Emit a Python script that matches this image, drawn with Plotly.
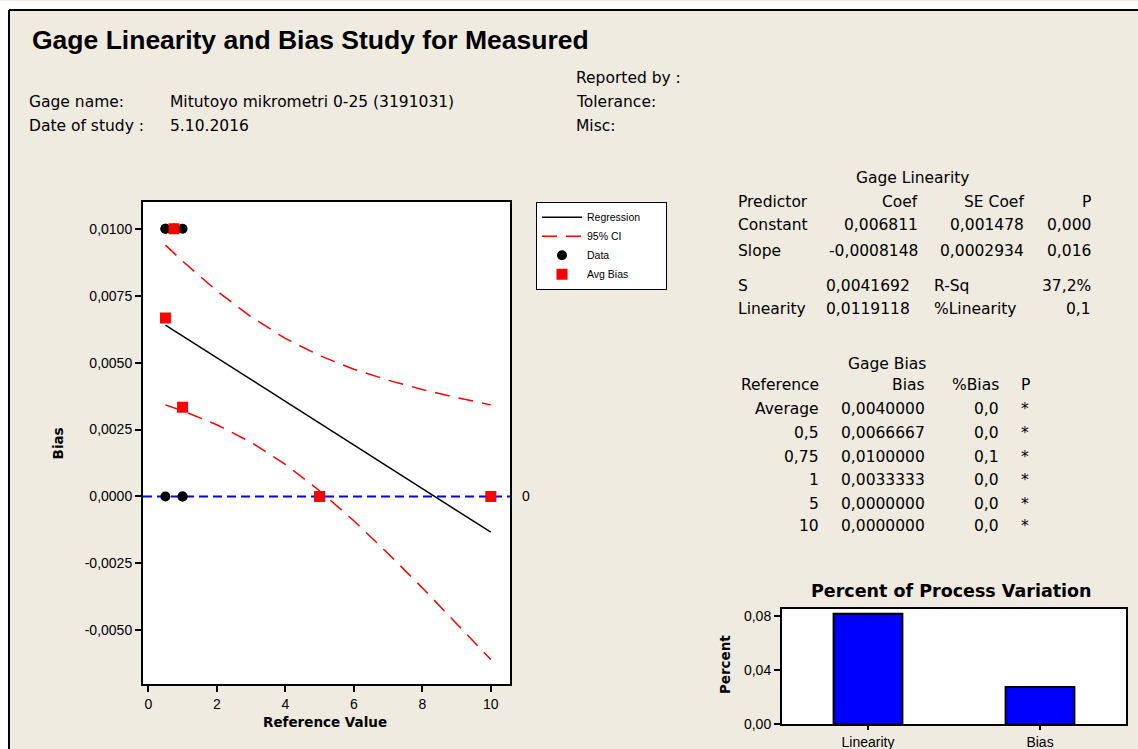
import plotly.graph_objects as go

W = 1138
REF_H = 749          # reference picture height (coordinates below are read in it)
H = 757              # figure height in page pixels
FONT = "Liberation Sans"
TFONT = "DejaVu Sans"
BEIGE = "#EFEBE1"

# ---------------- data ----------------
ref_data = [0.5, 0.5, 0.5, 0.75, 0.75, 0.75, 1, 1, 1, 5, 5, 5, 10, 10, 10]
bias_data = [0.01, 0.01, 0.0, 0.01, 0.01, 0.01, 0.01, 0.0, 0.0, 0.0, 0.0, 0.0, 0.0, 0.0, 0.0]
ref_levels = [0.5, 0.75, 1, 5, 10]
avg_bias = [0.0066667, 0.0100000, 0.0033333, 0.0, 0.0]

reg_const = 0.006811
reg_slope = -0.0008148

ci_x = [0.5, 1, 2, 3, 4, 5, 6, 7, 8, 9, 10]
ci_upper = [0.009388, 0.008793, 0.007682, 0.006710, 0.005904, 0.005262,
            0.004754, 0.004343, 0.003998, 0.003695, 0.003421]
ci_lower = [0.003420, 0.003199, 0.002680, 0.002024, 0.001200, 0.000212,
            -0.000910, -0.002129, -0.003412, -0.004739, -0.006095]

pv_categories = ["Linearity", "Bias"]
pv_percent = [0.0816, 0.0274]

x_ticks = [0, 2, 4, 6, 8, 10]
y_ticks = [-0.005, -0.0025, 0.0, 0.0025, 0.005, 0.0075, 0.01]
pv_ticks = [0.0, 0.04, 0.08]

lin_header = ["Predictor", "Coef", "SE Coef", "P"]
lin_rows = [["Constant", "0,006811", "0,001478", "0,000"],
            ["Slope", "-0,0008148", "0,0002934", "0,016"]]
lin_stats = [["S", "0,0041692", "R-Sq", "37,2%"],
             ["Linearity", "0,0119118", "%Linearity", "0,1"]]

bias_header = ["Reference", "Bias", "%Bias", "P"]
bias_refs = ["Average", "0,5", "0,75", "1", "5", "10"]
bias_vals = ["0,0040000", "0,0066667", "0,0100000", "0,0033333", "0,0000000", "0,0000000"]
bias_pct = ["0,0", "0,0", "0,1", "0,0", "0,0", "0,0"]
bias_p = ["*", "*", "*", "*", "*", "*"]

# ---------------- helpers ----------------
def px(x):
    return x / W

def py(y):
    return 1 - y / REF_H

def comma(v, nd):
    return f"{v:.{nd}f}".replace(".", ",")

annotations = []

def txt(text, x, y, anchor="left", size=15.5, bold=False, color="black", angle=0, family=TFONT):
    annotations.append(dict(
        text=f"<b>{text}</b>" if bold else text,
        x=px(x), y=py(y), xref="paper", yref="paper",
        xanchor=anchor, yanchor="middle", showarrow=False,
        textangle=angle,
        font=dict(family=family, size=size, color=color)))

fig = go.Figure()

NB = "\u00a0"
# regression line
reg_y = [reg_const + reg_slope * v for v in ref_levels]
fig.add_trace(go.Scatter(x=ref_levels, y=reg_y, mode="lines", name="Regression" + NB * 7,
                         line=dict(color="black", width=1.5)))
# CI
fig.add_trace(go.Scatter(x=ci_x + [None] + ci_x, y=ci_upper + [None] + ci_lower,
                         mode="lines", name="95% CI", connectgaps=False,
                         line=dict(color="#FF0000", width=1.5, dash="15px,9px")))
# data
fig.add_trace(go.Scatter(x=ref_data, y=bias_data, mode="markers", name="Data",
                         marker=dict(color="black", size=10, symbol="circle")))
# avg bias
fig.add_trace(go.Scatter(x=ref_levels, y=avg_bias, mode="markers", name="Avg Bias",
                         marker=dict(color="#FF0000", size=11, symbol="square")))

# bar chart
fig.add_trace(go.Bar(x=pv_categories, y=pv_percent, xaxis="x2", yaxis="y2",
                     width=0.4, showlegend=False,
                     marker=dict(color="#0000FF", line=dict(color="black", width=2))))

axis_common = dict(showline=True, linecolor="black", linewidth=2, mirror=True,
                   ticks="outside", ticklen=6, tickwidth=1.5, tickcolor="black",
                   showgrid=False, zeroline=False,
                   tickfont=dict(family=FONT, size=14, color="black"))

fig.update_layout(
    width=W, height=H,
    margin=dict(l=0, r=0, t=0, b=0),
    paper_bgcolor=BEIGE, plot_bgcolor="white",
    separators=",.",
    xaxis=dict(domain=[px(143), px(510)], range=[-0.155, 10.56],
               tickvals=x_ticks, ticktext=[str(v) for v in x_ticks], anchor="y", **axis_common),
    yaxis=dict(domain=[py(684), py(201)], range=[-0.00701, 0.01101],
               tickvals=y_ticks, ticktext=[comma(v, 4) for v in y_ticks], anchor="x", **axis_common),
    xaxis2=dict(domain=[px(782), px(1126)], range=[-0.5, 1.5], anchor="y2",
                type="category", **{**axis_common, "ticklen": 4}),
    yaxis2=dict(domain=[py(724), py(609)], range=[0, 0.085], anchor="x2",
                tickvals=pv_ticks, ticktext=[comma(v, 2) for v in pv_ticks], **axis_common),
    legend=dict(x=px(536), y=py(201), xanchor="left", yanchor="top",
                bgcolor="white", bordercolor="black", borderwidth=1,
                font=dict(family=FONT, size=10.5, color="black"),
                itemwidth=40, tracegroupgap=0),
    showlegend=True,
)

# zero reference line
fig.add_shape(type="line", xref="x domain", yref="y", x0=0, x1=1, y0=0, y1=0,
              line=dict(color="#0000FF", width=2, dash="9px,5px"), layer="below")

# outer frame (white margin strips + black border)
fig.add_shape(type="rect", xref="paper", yref="paper", x0=0, x1=px(9), y0=0, y1=1,
              fillcolor="white", line=dict(width=0), layer="below")
fig.add_shape(type="rect", xref="paper", yref="paper", x0=0, x1=1, y0=py(9), y1=1,
              fillcolor="white", line=dict(width=0), layer="below")
fig.add_shape(type="line", xref="paper", yref="paper", x0=px(9), x1=px(9), y0=0, y1=py(9),
              line=dict(color="black", width=2), layer="below")
fig.add_shape(type="line", xref="paper", yref="paper", x0=px(9), x1=1, y0=py(9), y1=py(9),
              line=dict(color="black", width=2), layer="below")

# header texts
txt("Gage Linearity and Bias Study for Measured", 30, 39, size=26.5, bold=True, family=FONT)
txt("Gage name:", 27, 101)
txt("Mitutoyo mikrometri 0-25 (3191031)", 168, 101)
txt("Date of study :", 27, 125)
txt("5.10.2016", 168, 125)
txt("Reported by :", 574, 77)
txt("Tolerance:", 574, 101)
txt("Misc:", 574, 125)

# axis titles
txt("Bias", 58, 443, anchor="center", size=13.5, bold=True, angle=-90)
txt("Reference Value", 325, 722, anchor="center", size=13.5, bold=True)
txt("0", 526, 496, anchor="center", size=14, family=FONT)
txt("Percent of Process Variation", 951, 591, anchor="center", size=17.5, bold=True)
txt("Percent", 725, 665, anchor="center", size=13.5, bold=True, angle=-90)

# Gage Linearity table
txt("Gage Linearity", 913, 177, anchor="center")
lin_cols = [(736, "left"), (920, "right"), (1026, "right"), (1093, "right")]
for (cx, an), t in zip(lin_cols, lin_header):
    txt(t, cx, 201, anchor=an)
for ry, row in zip([224, 250], lin_rows):
    for (cx, an), t in zip(lin_cols, row):
        txt(t, cx, ry, anchor=an)
stat_cols = [(736, "left"), (912, "right"), (932, "left"), (1093, "right")]
for ry, row in zip([285, 308], lin_stats):
    for (cx, an), t in zip(stat_cols, row):
        txt(t, cx, ry, anchor=an)

# Gage Bias table
txt("Gage Bias", 887, 363, anchor="center")
bias_cols = [(821, "right"), (927, "right"), (1001, "right"), (1025, "center")]
for (cx, an), t in zip(bias_cols, bias_header):
    txt(t, cx, 385, anchor=an)
for ry, a, b, c, d in zip([409, 433, 457, 480, 504, 526], bias_refs, bias_vals, bias_pct, bias_p):
    for (cx, an), t in zip(bias_cols, [a, b, c, d]):
        txt(t, cx, ry, anchor=an)

fig.update_layout(annotations=annotations)
fig.write_html(
    "out.html", config={"displayModeBar": False},
    post_script=("document.body.style.margin='0px';"
                 "document.body.style.overflow='hidden';"
                 "document.documentElement.style.overflow='hidden';"))
